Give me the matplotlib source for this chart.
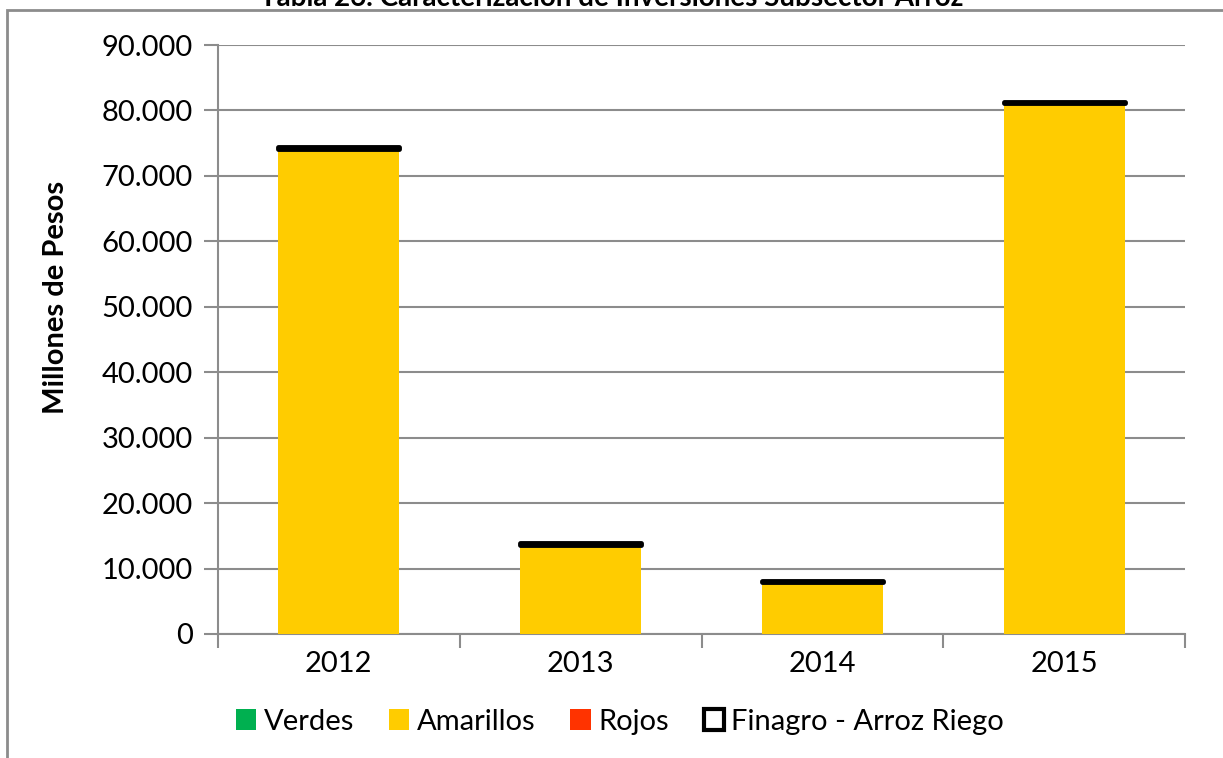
import matplotlib.pyplot as plt
import numpy as np
from matplotlib.patches import Rectangle, Patch
from matplotlib.ticker import FuncFormatter

plt.rcParams['font.family'] = ['Lato', 'DejaVu Sans']

years = ['2012', '2013', '2014', '2015']
verdes = [0, 0, 0, 0]
amarillos = [74100, 13600, 7900, 81100]
rojos = [0, 0, 0, 0]
finagro = [250, 250, 250, 250]

fig = plt.figure(figsize=(12.23, 7.58), dpi=100)
ax = fig.add_axes([218 / 1223, 1 - 634 / 758, 967 / 1223, 589 / 758])

x = np.arange(len(years))
w = 0.5
grid_c = '#8c8c8c'

# frame around the chart
fig.add_artist(Rectangle((7 / 1223, -0.1), 1.2, 1 - 10 / 758 + 0.1,
                         transform=fig.transFigure, fill=False,
                         edgecolor=grid_c, linewidth=2))
# title sits above the frame, cut off at the top as in the source
fig.text(0.5, 1.003, 'Tabla 26. Caracterización de Inversiones Subsector Arroz',
         ha='center', va='center', fontsize=20, fontweight='bold')

bottom = np.zeros(len(years))
ax.bar(x, verdes, w, bottom=bottom, color='#00b050', zorder=3)
bottom += verdes
ax.bar(x, amarillos, w, bottom=bottom, color='#ffcc00', zorder=3)
bottom += amarillos
ax.bar(x, rojos, w, bottom=bottom, color='#ff3300', zorder=3)
bottom += rojos
ax.bar(x, finagro, w, bottom=bottom, color='white', edgecolor='black',
       linewidth=3.5, capstyle='round', joinstyle='round', zorder=4)

ax.set_xlim(-0.5, 3.5)
ax.set_ylim(0, 90000)
ax.set_yticks(np.arange(0, 90001, 10000))
ax.yaxis.set_major_formatter(FuncFormatter(lambda v, p: f'{int(v):,}'.replace(',', '.')))
ax.set_xticks(x)
ax.set_xticklabels(years)
ax.set_xticks(np.arange(-0.5, 3.6, 1), minor=True)
ax.tick_params(axis='x', which='major', length=0, labelsize=21, pad=12)
ax.tick_params(axis='x', which='minor', length=10, color=grid_c, width=1.5)
ax.tick_params(axis='y', length=10, color=grid_c, width=1.5, labelsize=21, pad=8)
ax.grid(axis='y', color=grid_c, linewidth=1.5, zorder=0)
for s in ['top', 'right']:
    ax.spines[s].set_visible(False)
for s in ['left', 'bottom']:
    ax.spines[s].set_color(grid_c)
    ax.spines[s].set_linewidth(1.5)
ax.set_ylabel('Millones de Pesos', fontsize=21, fontweight='bold')
ax.yaxis.set_label_coords(-0.154, 0.572)

handles = [Patch(facecolor='#00b050'), Patch(facecolor='#ffcc00'),
           Patch(facecolor='#ff3300'),
           Patch(facecolor='white', edgecolor='black', linewidth=3)]
fig.legend(handles, ['Verdes', 'Amarillos', 'Rojos', 'Finagro - Arroz Riego'],
           loc='center', bbox_to_anchor=(0.507, 0.048), ncol=4, frameon=False,
           fontsize=21, handlelength=0.7, handleheight=0.7, handletextpad=0.25,
           columnspacing=1.2)

fig.savefig('out.png', dpi=100)
